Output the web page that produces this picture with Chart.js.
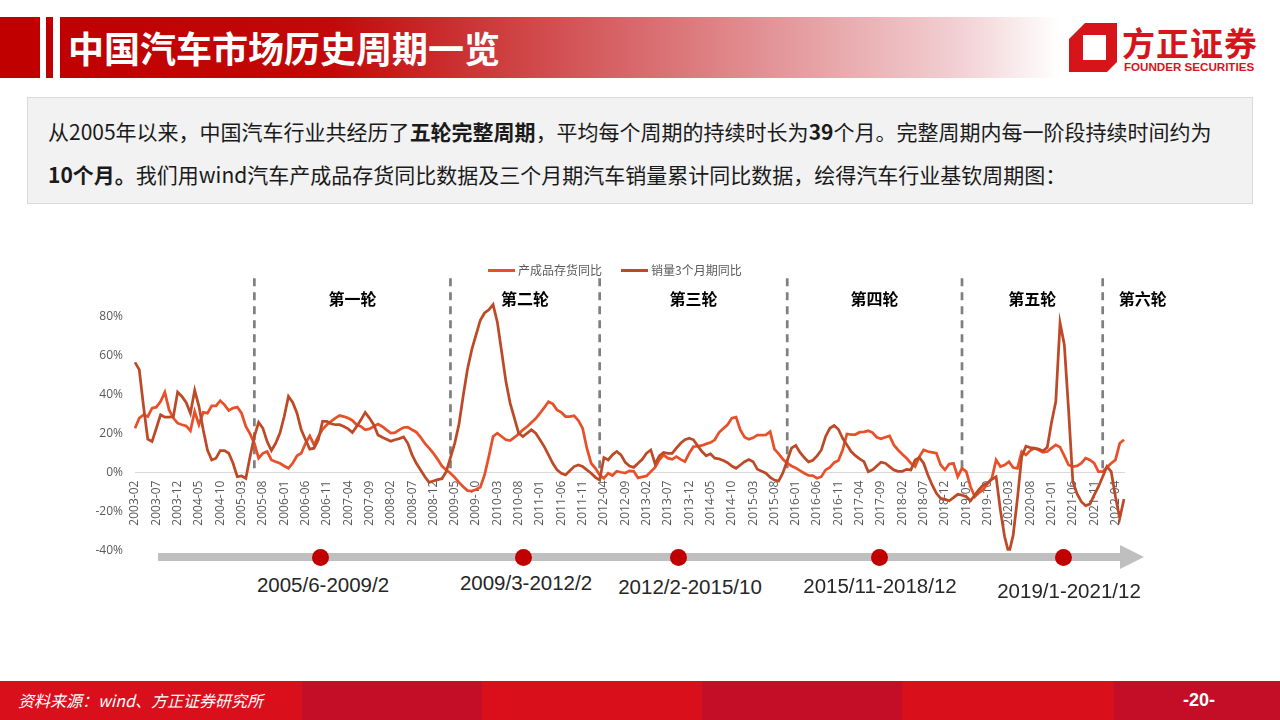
<!DOCTYPE html>
<html>
<head>
<meta charset="utf-8">
<script src="https://cdn.jsdelivr.net/npm/chart.js@4.4.0/dist/chart.umd.min.js"></script>
<style>
  body { margin: 0; width: 1280px; height: 720px; position: relative; overflow: hidden; background: #fff;
         font-family: "Noto Sans CJK SC", sans-serif; }
  .abs { position: absolute; }
  .red { background: #C00000; }
  #banner { left: 60px; top: 17px; width: 1000px; height: 61px;
            background: linear-gradient(90deg, #C00000 0%, #C20808 27%, #D86A6D 58%, #F2D0D3 90%, #fff 100%); }
  #title { left: 68px; top: 17px; height: 61px; line-height: 61px; color: #fff; font-size: 36px; font-weight: bold; }
  #logoText { left: 1122px; top: 22px; color: #D7141A; font-size: 33px; font-weight: bold; letter-spacing: 1px; line-height: 40px; }
  #logoEn { left: 1124px; top: 60px; color: #D7141A; font-family: "Liberation Sans", sans-serif; font-size: 11.6px; font-weight: bold; }
  #note { left: 27px; top: 97px; width: 1226px; height: 107px; box-sizing: border-box; background: #F2F2F2;
          border: 1px solid #D9D9D9; padding: 12px 0 0 20px; font-size: 21px; line-height: 43px; color: #1a1a1a; }
  #legend { left: 488px; top: 261px; display: flex; font-size: 12px; color: #595959; line-height: 18px; }
  #legend .item { display: flex; align-items: center; margin-right: 19px; }
  #legend .swatch { width: 27px; height: 3px; margin-right: 3px; }
  #chartBox { left: 0; top: 258px; width: 1280px; height: 312px; }
  #tlBar { left: 158px; top: 553px; width: 964px; height: 8px; background: #BFBFBF; }
  #tlArrow { left: 1120px; top: 545px; width: 0; height: 0; border-left: 24px solid #BFBFBF;
             border-top: 12px solid transparent; border-bottom: 12px solid transparent; }
  .dot { width: 17px; height: 17px; border-radius: 50%; background: #C00000; }
  .cyc { font-family: "Liberation Sans", sans-serif; font-size: 20.5px; color: #262626; transform: translate(-50%, -50%); white-space: nowrap; }
  #footer { left: 0; top: 681px; width: 1280px; height: 39px;
            background: linear-gradient(90deg, #D90F1B 0 302px, #C40E28 302px 482px, #D90F1B 482px 702px,
                                               #C40E28 702px 902px, #D90F1B 902px 1114px, #C40E28 1114px 1280px); }
  #source { left: 18px; top: 681px; height: 39px; line-height: 39px; color: #fff; font-size: 16px; font-style: italic; }
  #page { left: 1183px; top: 681px; height: 39px; line-height: 39px; color: #fff; font-size: 18px; font-weight: bold;
          font-family: "Liberation Sans", sans-serif; }
</style>
</head>
<body>
<div class="abs red" style="left:0;top:17px;width:40px;height:61px"></div>
<div class="abs red" style="left:46px;top:17px;width:7px;height:61px"></div>
<div class="abs" id="banner"></div>
<div class="abs" id="title">中国汽车市场历史周期一览</div>

<svg class="abs" style="left:1066px;top:20px" width="54" height="56" viewBox="0 0 54 56">
  <polygon points="19,3 51,3 51,42 41,52 3,52 3,19" fill="#D7141A"/>
  <polygon points="17,15 40,15 40,40 17,40" fill="#fff"/>
</svg>
<div class="abs" id="logoText">方正证券</div>
<div class="abs" id="logoEn">FOUNDER SECURITIES</div>

<div class="abs" id="note">从2005年以来，中国汽车行业共经历了<b>五轮完整周期</b>，平均每个周期的持续时长为<b>39</b>个月。完整周期内每一阶段持续时间约为<br><b>10个月。</b>我们用wind汽车产成品存货同比数据及三个月期汽车销量累计同比数据，绘得汽车行业基钦周期图：</div>

<div class="abs" id="chartBox"><canvas id="myChart" width="1280" height="312"></canvas></div>
<div class="abs" id="legend"></div>

<div class="abs" id="tlBar"></div>
<div class="abs" id="tlArrow"></div>
<div id="timeline"></div>

<div class="abs" id="footer"></div>
<div class="abs" id="source">资料来源：wind、方正证券研究所</div>
<div class="abs" id="page">-20-</div>

<script>
// series names and colours
var seriesNames = ["产成品存货同比", "销量3个月期同比"];
var seriesColors = ["#E8502A", "#BD4A26"];

// monthly data from 2003-02, in %
var startYear = 2003;
var startMonth = 2;

var inventoryYoY = [
  22.7, 27.9, 29.6, 28.7, 33, 33.5, 36.4, 41.2, 32.1, 27.9,
  25.3, 24.5, 23.9, 21.4, 31.3, 24.5, 30.8, 30.4, 34.2, 34.2,
  36.8, 34.7, 31.8, 33, 33.5, 30.4, 23.6, 19.8, 15, 7.4,
  9.9, 10.8, 6.5, 5.6, 4.8, 3.4, 2.2, 4.8, 8.6, 9.9,
  15, 18.8, 14.2, 18.5, 22.2, 24.5, 26.2, 27.9, 29.2, 28.7,
  27.9, 26.7, 24.5, 23.6, 21.9, 22.4, 23.6, 24.8, 23.6, 21.9,
  20.2, 20.5, 21.9, 23.1, 23.3, 21.9, 20.7, 18.1, 15, 12.5,
  9.9, 6.8, 3.4, 1.4, -0.3, -2.4, -5, -7.2, -9.2, -9.4,
  -8.6, -7.5, -1.2, 8.2, 18.5, 20.2, 18.5, 16.8, 16.4, 18,
  19.8, 21.9, 23.6, 25.7, 27.7, 30.4, 33.3, 36.3, 35.2, 32.1,
  30.8, 28.7, 28.7, 29.1, 26.7, 22.7, 12.5, 4.8, 2.2, -1.2,
  -2.9, -0.3, -1.5, 0.7, 0.2, -0.2, 0.9,
  0.7, -2.7, -2.2, -1.7, 0.5, 2.7, 6.5, 9.1, 7.4, 6.8,
  8.2, 6.8, 5.6, 9.9, 13.3, 13.5, 13.9, 14.7, 15.4, 16.8,
  20.5, 22.6, 24.5, 27.9, 28.4, 21.9, 18.1, 17.1, 17.8, 19.2,
  19.2, 19.3, 21, 12, 9.6, 6.8, 4.8, 3.4, 2.4, 1,
  -0.3, -1.4, -1.5, -2.9, -2.1, 1.4, 2.7, 5.1, 6.2, 11.6,
  19.8, 19.5, 19.5, 20.7, 20.9, 21.4, 20.5, 18.1, 17.3,
  18.1, 18.8, 14.2, 11.6, 9.4, 7.4, 4.8, 3.1, 8.2, 11.6,
  10.8, 10.4, 9.9, 3.9, 1.4, 4.4, 4.8, -2.1, 2.2, 0.5,
  -7.2, -12.3, -10.3, -8.6, -5.5, -2.9, 6.5, 3.1, 3.9, 5.6,
  2.6, 2.2, 10.8, 9.1, 11.3, 12.5, 11.6, 10.4, 10.8, 12.5,
  14.2, 13, 8.6, 3.9, 3.1, 3.4, 4.8, 7.4, 6.5, 4.8,
  0.5, 0.5, 2.7, 4.8, 6.5, 15, 16.8
];

var sales3mYoY = [
  56.4, 52.7, 33.9, 17.1, 15.9, 22.7, 29.6, 28.4, 28.4, 28.7,
  41.2, 39, 35.9, 30.4, 42.1, 33.9, 21.9, 11.6, 6.5, 7.4,
  11.3, 11.3, 9.9, 4.8, -2.1, -1.7, -2.9, 8.2, 18.5, 25.7,
  22.7, 15.9, 11.3, 15, 20.2, 28.7, 39, 35.9, 30.4, 21.9,
  16.8, 12, 12.5, 16.8, 26.2, 26.2, 25, 24.5, 24.5, 23.6,
  22.4, 20.5, 23.6, 27, 30.8, 27.9, 24.5, 19.3, 18.1, 17.1,
  16.1, 16.8, 17.4, 18.3, 15, 9.1, 4.8, 1.4, -2.1, -5,
  -4.3, -3.6, -3.1, 0.5, 7.7, 15, 24.8, 39.5, 53, 62.9,
  70.5, 78, 81.7, 83.3, 86, 77, 62, 46.7, 35.6, 27.9,
  20.2, 18.5, 20.2, 21.9, 20.2, 16.8, 13.3, 9.1, 4.8, 1.4,
  -0.3, -1.2, 1, 3.1, 3.9, 3.1, 1.4, -0.3, -2.4, -3.8,
  7.7, 6.5, 9.1, 10.8, 9.1, 5.3, 3.4,
  2.7, 4.8, 6.8, 9.9, 11.6, 4.5, 8.6, 10.3, 9.9, 9.9,
  12.5, 15, 16.8, 17.6, 16.8, 13.7, 10.8, 8.6, 9.6, 7.4,
  7, 6.2, 5.1, 3.4, 2.2, 3.9, 5.6, 6.7, 5.6, 1.7,
  0.7, -0.3, -2.4, -3.8, -4.3, 0, 6.2, 12.5, 13.9, 10.3,
  7.7, 5.5, 6.3, 8.6, 11.6, 18.5, 22.7, 24.1, 22.2, 17.6,
  14.2, 10.8, 8.7, 7, 5.6, 0.5, 1.4, 3.4, 5.3,
  4.8, 3.1, 1.4, 0.7, 0.7, 1.7, 1.4, 6.5, 7.7, 4.8,
  -1.2, -6.3, -10.6, -13.2, -13.7, -14.4, -12.8, -11.1, -11.5, -12.3,
  -14.4, -11.5, -8.6, -6.3, -5.5, -3.4, -2.1, -19.2, -32.8, -41.4,
  -32, -13.3, 8.2, 13.5, 12.8, 12.5, 12.1, 11.1, 13, 25.7,
  36.4, 76.6, 65.5, 32.1, -4.6, -10.9, -14.9, -16.9, -16.1, -11.5,
  -7.2, -2.1, 3.1, 0.5, -12.3, -23.4, -13.5
];

// cycle boundaries (dashed lines) and names
var boundaryMonths = ["2005-06", "2009-04", "2012-03", "2015-11", "2019-04", "2022-01"];
var roundNames = ["第一轮", "第二轮", "第三轮", "第四轮", "第五轮", "第六轮"];
var cycleRanges = ["2005/6-2009/2", "2009/3-2012/2", "2012/2-2015/10", "2015/11-2018/12", "2019/1-2021/12"];

// month labels
var months = inventoryYoY.map(function(_, i) {
  var m = startMonth - 1 + i;
  var yy = startYear + Math.floor(m / 12);
  var mm = (m % 12) + 1;
  return yy + "-" + (mm < 10 ? "0" + mm : mm);
});

// legend
var legend = document.getElementById("legend");
seriesNames.forEach(function(name, k) {
  var item = document.createElement("div");
  item.className = "item";
  item.innerHTML = "<span class='swatch' style='background:" + seriesColors[k] + "'></span>" + name;
  legend.appendChild(item);
});

// timeline under the chart
var dotX = [320, 523, 678, 879, 1063];
var labelX = [323, 526, 690, 880, 1069];
var labelY = [585, 583, 587, 586, 591];
var timeline = document.getElementById("timeline");
cycleRanges.forEach(function(txt, k) {
  var dot = document.createElement("div");
  dot.className = "abs dot";
  dot.style.left = (dotX[k] - 8.5) + "px";
  dot.style.top = (557 - 8.5) + "px";
  timeline.appendChild(dot);
  var lab = document.createElement("div");
  lab.className = "abs cyc";
  lab.style.left = labelX[k] + "px";
  lab.style.top = labelY[k] + "px";
  lab.textContent = txt;
  timeline.appendChild(lab);
});

// dashed cycle lines + round names
var cycleMarks = {
  id: "cycleMarks",
  beforeDatasetsDraw: function(chart) {
    var ctx = chart.ctx;
    var area = chart.chartArea;
    var x = chart.scales.x;
    var y = chart.scales.y;
    var xs = boundaryMonths.map(function(m) { return x.getPixelForValue(months.indexOf(m)); });
    ctx.save();
    ctx.strokeStyle = "#7F7F7F";
    ctx.lineWidth = 2.7;
    ctx.setLineDash([8, 6]);
    xs.forEach(function(px) {
      ctx.beginPath();
      ctx.moveTo(px, area.top + 1);
      ctx.lineTo(px, y.getPixelForValue(0));
      ctx.stroke();
    });
    ctx.setLineDash([]);
    ctx.font = "bold 16px 'Noto Sans CJK SC'";
    ctx.fillStyle = "#000";
    ctx.textAlign = "center";
    ctx.textBaseline = "middle";
    roundNames.forEach(function(name, k) {
      var cx = k < xs.length - 1 ? (xs[k] + xs[k + 1]) / 2 : xs[k] + 40;
      ctx.fillText(name, cx, area.top + 22);
    });
    ctx.restore();
  }
};

var ctx = document.getElementById("myChart").getContext("2d");
var myChart = new Chart(ctx, {
  type: "line",
  data: {
    labels: months,
    datasets: [
      { label: seriesNames[0], data: inventoryYoY, borderColor: seriesColors[0], backgroundColor: seriesColors[0],
        borderWidth: 2.75, pointRadius: 0, tension: 0, order: 1 },
      { label: seriesNames[1], data: sales3mYoY, borderColor: seriesColors[1], backgroundColor: seriesColors[1],
        borderWidth: 2.75, pointRadius: 0, tension: 0, order: 0 }
    ]
  },
  options: {
    responsive: false,
    animation: false,
    layout: { padding: { top: 10, right: 156, bottom: 1, left: 0 } },
    plugins: { legend: { display: false }, tooltip: { enabled: false } },
    scales: {
      x: {
        position: { y: 0 },
        grid: { display: false, drawTicks: false },
        border: { color: "#D9D9D9", width: 1 },
        ticks: {
          autoSkip: false, maxRotation: 90, minRotation: 90, padding: 8,
          color: "#595959", font: { size: 12, family: "'Open Sans'" },
          callback: function(v, i) { return i % 5 === 0 ? this.getLabelForValue(v) : null; }
        }
      },
      y: {
        min: -40, max: 100,
        afterFit: function(scale) { scale.width = 135; },
        grid: { display: false, drawTicks: false },
        border: { display: false },
        ticks: {
          stepSize: 20, padding: 12, color: "#595959", font: { size: 12, family: "'Open Sans'" },
          callback: function(v) { return v >= 100 ? "" : v + "%"; }
        }
      }
    }
  },
  plugins: [cycleMarks]
});
</script>
</body>
</html>
